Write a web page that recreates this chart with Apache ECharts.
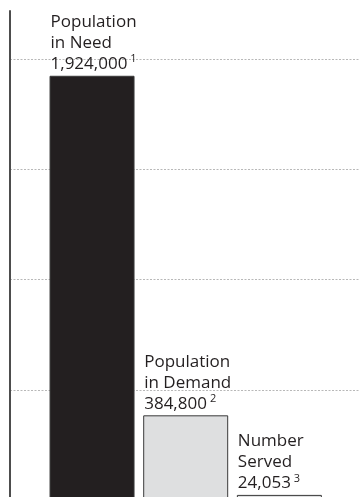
<!DOCTYPE html>
<html><head><meta charset="utf-8">
<script src="https://cdn.jsdelivr.net/npm/echarts@6/dist/echarts.min.js"></script>
<style>html,body{margin:0;padding:0;background:#fff}#c{width:359px;height:497px}</style>
</head><body><div id="c"></div>
<script>
var categories = ["Population\nin Need", "Population\nin Demand", "Number\nServed"];
var values = [1924000, 384800, 24053];
var valueLabels = ["1,924,000", "384,800", "24,053"];
var footnotes = ["1", "2", "3"];
var fills = ["#231f20", "#dedfe0", "#dedfe0"];
var borders = ["#3a3a3a", "#3a3a3a", "#3a3a3a"];

var chart = echarts.init(document.getElementById('c'), null, {renderer: 'canvas'});
var zeroY = 500.2, pxPerM = 220.6;
var data = values.map(function (v, i) {
  return {
    value: v,
    itemStyle: {color: fills[i], borderColor: borders[i], borderWidth: 1},
    label: {
      formatter: categories[i].split('\n').map(function (s) { return '{t|' + s + '}'; }).join('\n') +
        '\n{t|' + valueLabels[i] + '}{s|' + footnotes[i] + '}'
    }
  };
});
var hiddenX = {type: 'value', show: false, min: 0, max: 1};
chart.setOption({
  animation: false,
  grid: [
    {left: 10, right: 0, top: 11, height: zeroY - 11, outerBoundsMode: 'none', containLabel: false},
    {left: 10, right: 0, top: zeroY - 2 * pxPerM, height: 2 * pxPerM, outerBoundsMode: 'none', containLabel: false},
    {left: 45.2, width: 281, top: zeroY - 2 * pxPerM, height: 2 * pxPerM, outerBoundsMode: 'none', containLabel: false}
  ],
  xAxis: [
    Object.assign({gridIndex: 0}, hiddenX),
    Object.assign({gridIndex: 1}, hiddenX),
    {gridIndex: 2, type: 'category', data: categories, show: false, boundaryGap: true}
  ],
  yAxis: [
    {gridIndex: 0, type: 'value', min: 0, max: (zeroY - 11) / pxPerM * 1000000,
     axisLine: {show: true, lineStyle: {color: '#4d4d4d', width: 2}},
     axisTick: {show: false}, axisLabel: {show: false}, splitLine: {show: false}},
    {gridIndex: 1, type: 'value', min: 0, max: 2000000, interval: 500000,
     axisLine: {show: false}, axisTick: {show: false}, axisLabel: {show: false},
     splitLine: {show: true, lineStyle: {color: '#b8b8b8', width: 1, type: [2, 1.5]}}},
    {gridIndex: 2, type: 'value', min: 0, max: 2000000, show: false, splitLine: {show: false}}
  ],
  series: [{
    type: 'bar', xAxisIndex: 2, yAxisIndex: 2, barWidth: 85, data: data,
    label: {
      show: true, position: [1, -1], align: 'left', verticalAlign: 'bottom',
      rich: {
        t: {fontFamily: 'Open Sans', fontSize: 17, lineHeight: 21, color: '#231f20'},
        s: {fontFamily: 'Open Sans', fontSize: 11, lineHeight: 21, color: '#231f20', verticalAlign: 'top', padding: [0, 0, 0, 3]}
      }
    }
  }]
});
</script></body></html>
